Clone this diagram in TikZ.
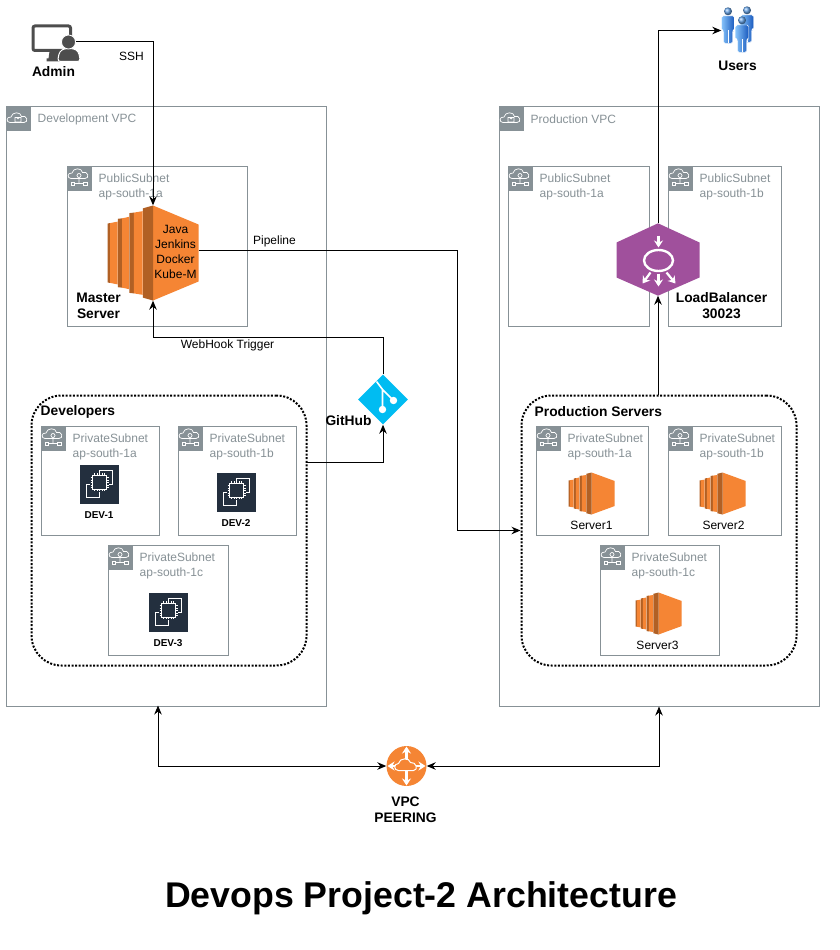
\documentclass[tikz,border=0pt]{standalone}
\usepackage{fontspec}
\setmainfont{Liberation Sans}
\usetikzlibrary{shapes.geometric,arrows.meta,positioning,calc}
\definecolor{awsOrange}{RGB}{245,133,52}
\definecolor{awsBrown}{RGB}{177,96,36}
\definecolor{awsGray}{RGB}{135,145,150}
\definecolor{awsDark}{RGB}{35,47,62}
\definecolor{awsPurple}{RGB}{160,80,156}
\definecolor{gitBlue}{RGB}{0,188,242}
\definecolor{userBlue}{RGB}{25,90,190}
\definecolor{userLight}{RGB}{135,195,250}
\definecolor{adminGray}{RGB}{77,77,77}
\tikzset{
    >={Stealth[length=9pt,width=7.5pt]},
    link/.style={draw=black, line width=1pt},
    vpcBox/.style={draw=awsGray, line width=1pt, inner sep=0, anchor=north west},
    subnetBox/.style={draw=awsGray, line width=1pt, fill=white, inner sep=0, anchor=north west},
    tagBox/.style={fill=awsGray, minimum size=25pt, inner sep=0, anchor=north west},
    groupBox/.style={draw=black, line width=2pt, dash pattern=on 2pt off 1.6pt, rounded corners=30pt, inner sep=0, anchor=north west, minimum width=275pt, minimum height=270pt},
    grayText/.style={text=awsGray, font=\fontsize{12}{15}\selectfont, align=left, anchor=west, inner sep=0},
    smallText/.style={font=\fontsize{12}{15}\selectfont, align=center, inner sep=0},
    boldText/.style={font=\fontsize{13.8}{16}\bfseries\selectfont, align=center, inner sep=0},
    iconBox/.style={inner sep=0, minimum width=#1},
    whiteArrow/.style={white, line width=2.2pt, >={Stealth[length=7pt,width=9pt]}},
    cloudLine/.pic={
        \draw[white, line width=0.7pt] (-8,3) .. controls (-12,3) and (-12,-3) .. (-7,-2.5) .. controls (-6,-8) and (3,-8) .. (3.5,-3) .. controls (9,-5) and (11,3) .. (6,3) -- cycle;
    },
    subnetIcon/.pic={
        \path (12.5,10) pic {cloudLine};
        \draw[white, line width=0.7pt] (12.5,10) circle (2) (12.5,12) -- (12.5,18) (8,18) -- (17,18);
        \draw[white, line width=0.7pt] (4.5,16.5) rectangle (8,19.5) (17,16.5) rectangle (20.5,19.5);
    },
    vpcIcon/.pic={
        \path (12.5,14) pic {cloudLine};
        \draw[white, line width=0.7pt] (9.5,12) rectangle (15.5,16.5) (11,12) arc (180:0:1.5);
    },
    serverIcon/.pic={
        \fill[awsOrange] (50,0) -- (100,20) -- (100,80) -- (50,100) -- cycle;
        \fill[awsBrown] (39,3) -- (50,0) -- (50,100) -- (39,97) -- cycle;
        \foreach \a/\b/\d/\c in {0/3/11/19, 11.5/16/23.5/14, 24/29/38.5/8} {
            \fill[awsBrown] (\a,\c) -- (\b,\c-0.5) -- (\b,100.5-\c) -- (\a,100-\c) -- cycle;
            \fill[awsOrange] (\b,\c-0.5) -- (\d,\c-2) -- (\d,102-\c) -- (\b,100.5-\c) -- cycle;
        }
    },
    chipIcon/.pic={
        \fill[awsDark] (0,0) rectangle (39,39);
        \draw[white, line width=0.7pt] (13,10.5) rectangle (27,24.5);
        \foreach \p in {15,17.5,20,22.5,25} {
            \draw[white, line width=0.5pt] (\p,8.5) -- (\p,10.5) (\p,24.5) -- (\p,26.5);
            \draw[white, line width=0.5pt] (11,\p-2) -- (13,\p-2) (27,\p-2) -- (29,\p-2);
        }
        \draw[white, line width=0.7pt] (19.5,8) -- (19.5,6) -- (33,6) -- (33,19.5) -- (29.5,19.5);
        \draw[white, line width=0.7pt] (10.5,19.5) -- (6.5,19.5) -- (6.5,33) -- (20,33) -- (20,27);
    },
    personIcon/.pic={
        \shade[ball color=userLight!70!userBlue] (6.5,3.8) circle (4);
        \shade[left color=userLight, right color=userBlue, draw=white, line width=0.4pt, rounded corners=1.5pt]
            (0,8.5) -- (13,8.5) -- (13,23) -- (11,23) -- (11,36) -- (2,36) -- (2,23) -- (0,23) -- cycle;
        \draw[white, line width=0.3pt] (6.5,23) -- (6.5,36);
    }
}
\begin{document}
\begin{tikzpicture}[x=1pt,y=-1pt]
    \useasboundingbox (0,0) rectangle (840,950);
    \begin{scope}[shift={(-0.5,-0.5)}]

    % VPC outlines
    \foreach \n/\x/\t in {devvpc/6/Development VPC, prodvpc/499/Production VPC} {
        \node[vpcBox, minimum width=320pt, minimum height=600pt] (\n) at (\x,106) {};
        \node[tagBox] (\n tag) at (\x,106) {};
        \path (\x,106) pic {vpcIcon};
        \node[grayText] (\n lbl) at (\x+32,119.5) {\t};
    }

    % Subnets
    \foreach \n/\x/\y/\w/\h/\t in {
        devpub/67/166/180/160/{PublicSubnet\\ap-south-1a},
        prodpuba/508/166/141/160/{PublicSubnet\\ap-south-1a},
        prodpubb/668/166/113/160/{PublicSubnet\\ap-south-1b},
        devpriva/41/426/118/109/{PrivateSubnet\\ap-south-1a},
        devprivb/178/426/118/109/{PrivateSubnet\\ap-south-1b},
        devprivc/108/545/120/110/{PrivateSubnet\\ap-south-1c},
        prodpriva/536/426/112/109/{PrivateSubnet\\ap-south-1a},
        prodprivb/668/426/113/109/{PrivateSubnet\\ap-south-1b},
        prodprivc/600/545/119/110/{PrivateSubnet\\ap-south-1c}} {
        \node[subnetBox, minimum width=\w pt, minimum height=\h pt] (\n) at (\x,\y) {};
        \node[tagBox] (\n tag) at (\x,\y) {};
        \path (\x,\y) pic {subnetIcon};
        \node[grayText] (\n lbl) at (\x+32,\y+21) {\t};
    }

    % Dotted groups
    \node[groupBox] (devgroup) at (31,395) {};
    \node[boldText, anchor=west] (devgrouplbl) at (41,412) {Developers};
    \node[groupBox] (prodgroup) at (521,395) {};
    \node[boldText, anchor=west] (prodgrouplbl) at (535,412) {Production Servers};

    % Developer machines
    \foreach \n/\x/\y/\t in {1/80/465/515.5, 2/217/473/523.5, 3/149/593/643.5} {
        \path (\x,\y) pic {chipIcon};
        \node[smallText, font=\fontsize{10}{12}\bfseries\selectfont] (dev\n) at (\x+19.5,\t) {DEV-\n};
    }

    % Production machines
    \foreach \n/\x/\y/\t in {1/569/473/592, 2/700/473/724, 3/636/593/658} {
        \path (\x,\y) pic[xscale=0.46, yscale=0.42] {serverIcon};
        \node[smallText] (server\n) at (\t,\y+52.5) {Server\n};
    }

    % Master server
    \path (108,206) pic[xscale=0.91, yscale=0.95] {serverIcon};
    \node[iconBox=91pt, minimum height=95pt] (master) at (153.5,253.5) {};
    \node[smallText, font=\fontsize{12}{15}\selectfont] (masterapps) at (176,252.5) {Java\\Jenkins\\Docker\\Kube-M};
    \node[boldText] (masterlbl) at (99,306) {Master\\Server};

    % Admin
    \draw[adminGray, line width=3pt, rounded corners=2pt] (33.5,26.5) rectangle (71,51);
    \fill[adminGray] (50,52) -- (64,52) -- (65,59) -- (68,59) -- (68,62) -- (47,62) -- (47,59) -- (49,59) -- cycle;
    \fill[adminGray, draw=white, line width=1pt, rounded corners=3pt] (58,62) -- (60,52) -- (65,49) -- (74,49) -- (79,52) -- (81,62) -- cycle;
    \node[circle, fill=adminGray, draw=white, line width=0.8pt, minimum size=14pt, inner sep=0] (admin) at (69,42.5) {};
    \node[boldText] (adminlbl) at (54,72) {Admin};

    % Users
    \path (741,7) pic {personIcon};
    \path (722,8) pic {personIcon};
    \path (736,17) pic {personIcon};
    \node[iconBox=32pt, minimum height=46pt] (users) at (738,31) {};
    \node[boldText] (userslbl) at (738,66) {Users};

    % Load balancer shape holder
    \node[iconBox=83pt, minimum height=72pt] (lb) at (658.5,260) {};

    % Connectors
    \coordinate (pipeA) at (458,251);
    \draw[link,->] (admin.east) -| (master.north);
    \draw[link] ([yshift=2.5pt]master.east) -- (pipeA);
    \draw[link,->] (pipeA) |- (prodgroup.west);
    \draw[link,->] (prodgroup.north -| lb.south) -- (lb.south);
    \draw[link,->] (lb.north) |- (users.west);

    % Load balancer
    \fill[awsPurple] (lb.north) -- (700,243) -- (700,278) -- (lb.south) -- (617,278) -- (617,243) -- cycle;
    \draw[white, line width=2.4pt] (659,261) ellipse (14.5 and 10.5);
    \begin{scope}[whiteArrow]
        \draw[->] (659,236) -- (659,248);
        \draw[->] (659,274) -- (659,287);
        \draw[->] (651,273) -- (643,284);
        \draw[->] (667,273) -- (676,284);
    \end{scope}
    \node[boldText] (lblbl) at (722,306.5) {LoadBalancer\\30023};

    % GitHub
    \node[diamond, fill=gitBlue, minimum size=50pt, inner sep=0] (github) at (383.5,400) {};
    \draw[white, line width=1.6pt] (377,382) -- (383,390) -- (383,410) (383,390) -- (394,401);
    \fill[white] (383,410) circle (3.7) (394,401) circle (3.7);
    \node[boldText] (githublbl) at (349,421) {GitHub};
    \coordinate (devOut) at (306,463);
    \coordinate (hookA) at (153.5,338);
    \draw[link,->] (devOut) -| (github.south);
    \draw[link,->] (github.north) |- (hookA) -- (master.south);

    % VPC peering
    \node[circle, fill=awsOrange, minimum size=40pt, inner sep=0] (peering) at (407,766.5) {};
    \begin{scope}[whiteArrow]
        \draw[<->] (407,747) -- (407,786);
        \draw[<->] (388,766.5) -- (426,766.5);
    \end{scope}
    \draw[white, fill=awsOrange, line width=1pt] (399,771) .. controls (394,771) and (394,764) .. (399,764) .. controls (400,758) and (410,758) .. (411,763) .. controls (417,762) and (419,771) .. (414,771) -- cycle;
    \node[boldText] (peeringlbl) at (406,810.5) {VPC\\PEERING};
    \coordinate (devIn) at (158.5,706);
    \draw[link,<->] (peering.west) -| (devIn);
    \draw[link,<->] (peering.east) -| (prodvpc.south);

    % Connector labels
    \node[smallText] (sshlbl) at (132,57) {SSH};
    \node[smallText] (pipelbl) at (275,241.5) {Pipeline};
    \node[smallText] (hooklbl) at (228,346) {WebHook Trigger};

    % Title
    \node[font=\fontsize{35.7}{40}\bfseries\selectfont, inner sep=0] (title) at (421.5,899) {Devops Project-2 Architecture};
    \end{scope}
\end{tikzpicture}
\end{document}
